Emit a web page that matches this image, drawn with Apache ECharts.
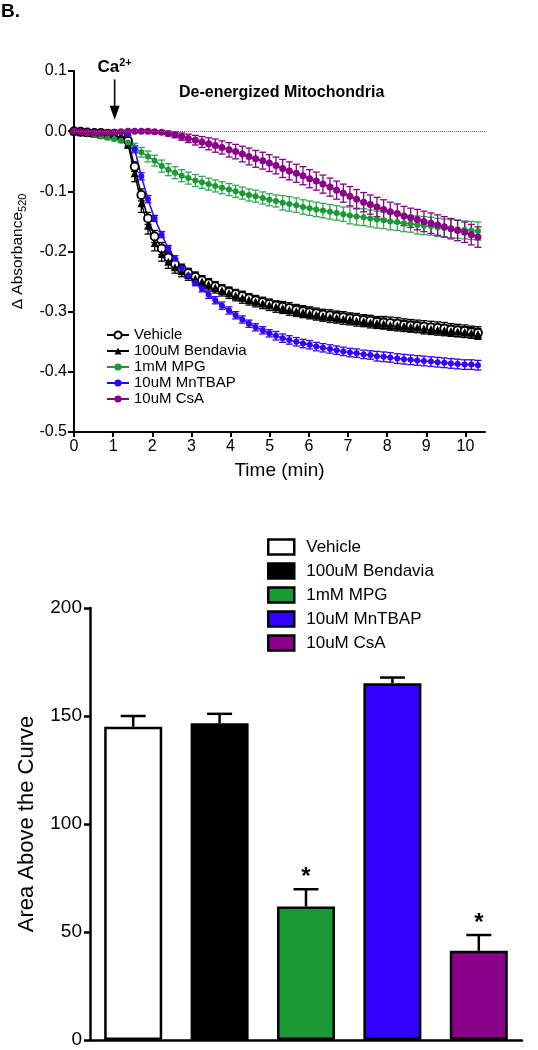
<!DOCTYPE html>
<html><head><meta charset="utf-8">
<script src="https://cdn.jsdelivr.net/npm/echarts@6/dist/echarts.min.js"></script>
<style>html,body{margin:0;padding:0;background:#fff}#c{width:538px;height:1050px}</style>
</head><body><div id="c"></div>
<script>
const FONT = '"Liberation Sans", Arial, sans-serif';
const seriesNames = ['Vehicle', '100uM Bendavia', '1mM MPG', '10uM MnTBAP', '10uM CsA'];
const timeMin = [
  0, 0.17, 0.34, 0.52, 0.69, 0.86, 1.03, 1.20, 1.38, 1.55,
  1.72, 1.89, 2.06, 2.24, 2.41, 2.58, 2.75, 2.92, 3.10, 3.27,
  3.44, 3.61, 3.78, 3.96, 4.13, 4.30, 4.47, 4.64, 4.82, 4.99,
  5.16, 5.33, 5.50, 5.68, 5.85, 6.02, 6.19, 6.36, 6.54, 6.71,
  6.88, 7.05, 7.22, 7.40, 7.57, 7.74, 7.91, 8.08, 8.26, 8.43,
  8.60, 8.77, 8.94, 9.12, 9.29, 9.46, 9.63, 9.80, 9.98, 10.15, 10.32];
const vehicle = [
  0, -0.001, -0.002, -0.003, -0.003, -0.004, -0.004, -0.005, -0.016, -0.059,
  -0.106, -0.145, -0.175, -0.195, -0.210, -0.221, -0.229, -0.236, -0.242, -0.248,
  -0.253, -0.258, -0.263, -0.267, -0.271, -0.274, -0.278, -0.281, -0.284, -0.287,
  -0.290, -0.292, -0.294, -0.297, -0.299, -0.301, -0.303, -0.305, -0.306, -0.308,
  -0.309, -0.311, -0.312, -0.314, -0.315, -0.317, -0.318, -0.319, -0.320, -0.322,
  -0.323, -0.324, -0.325, -0.326, -0.327, -0.328, -0.330, -0.331, -0.332, -0.334, -0.335];
const vehicleErr = [
  0.001, 0.001, 0.001, 0.001, 0.001, 0.002, 0.002, 0.002, 0.004, 0.008,
  0.010, 0.010, 0.010, 0.010, 0.009, 0.009, 0.008, 0.008, 0.008, 0.008,
  0.008, 0.008, 0.008, 0.008, 0.008, 0.008, 0.008, 0.008, 0.008, 0.008,
  0.008, 0.009, 0.009, 0.009, 0.009, 0.009, 0.009, 0.009, 0.009, 0.009,
  0.009, 0.009, 0.009, 0.009, 0.009, 0.009, 0.010, 0.010, 0.010, 0.010,
  0.010, 0.010, 0.010, 0.010, 0.010, 0.010, 0.010, 0.010, 0.010, 0.010, 0.010];
const bendavia = [
  0, -0.002, -0.003, -0.004, -0.005, -0.005, -0.006, -0.007, -0.022, -0.070,
  -0.120, -0.157, -0.186, -0.204, -0.217, -0.226, -0.233, -0.239, -0.245, -0.250,
  -0.255, -0.260, -0.265, -0.269, -0.273, -0.277, -0.280, -0.283, -0.286, -0.289,
  -0.292, -0.294, -0.297, -0.299, -0.301, -0.303, -0.305, -0.307, -0.309, -0.310,
  -0.312, -0.313, -0.315, -0.316, -0.318, -0.319, -0.320, -0.322, -0.323, -0.324,
  -0.325, -0.326, -0.328, -0.329, -0.330, -0.331, -0.332, -0.333, -0.334, -0.335, -0.337];
const bendaviaErr = [
  0.001, 0.001, 0.001, 0.001, 0.001, 0.001, 0.001, 0.001, 0.006, 0.014,
  0.015, 0.014, 0.013, 0.012, 0.011, 0.010, 0.009, 0.009, 0.009, 0.009,
  0.009, 0.009, 0.009, 0.009, 0.009, 0.009, 0.009, 0.009, 0.009, 0.009,
  0.009, 0.009, 0.009, 0.009, 0.009, 0.009, 0.009, 0.009, 0.009, 0.009,
  0.009, 0.009, 0.009, 0.009, 0.009, 0.009, 0.009, 0.009, 0.009, 0.009,
  0.009, 0.009, 0.009, 0.009, 0.009, 0.009, 0.009, 0.009, 0.009, 0.009, 0.009];
const mpg = [
  0, -0.002, -0.004, -0.006, -0.009, -0.011, -0.013, -0.016, -0.019, -0.027,
  -0.035, -0.042, -0.049, -0.058, -0.064, -0.069, -0.074, -0.078, -0.082, -0.085,
  -0.088, -0.091, -0.094, -0.097, -0.100, -0.103, -0.106, -0.108, -0.111, -0.114,
  -0.116, -0.119, -0.121, -0.123, -0.126, -0.128, -0.130, -0.132, -0.134, -0.136,
  -0.138, -0.140, -0.142, -0.143, -0.145, -0.147, -0.148, -0.150, -0.151, -0.153,
  -0.154, -0.156, -0.157, -0.158, -0.160, -0.161, -0.162, -0.163, -0.164, -0.165, -0.166];
const mpgErr = [
  0.002, 0.002, 0.002, 0.002, 0.003, 0.003, 0.003, 0.003, 0.005, 0.007,
  0.008, 0.009, 0.009, 0.010, 0.010, 0.010, 0.010, 0.010, 0.010, 0.010,
  0.010, 0.010, 0.010, 0.010, 0.010, 0.010, 0.010, 0.010, 0.010, 0.010,
  0.010, 0.012, 0.012, 0.012, 0.012, 0.012, 0.012, 0.012, 0.012, 0.012,
  0.012, 0.014, 0.014, 0.014, 0.014, 0.014, 0.014, 0.014, 0.014, 0.014,
  0.014, 0.015, 0.015, 0.015, 0.015, 0.015, 0.015, 0.015, 0.015, 0.015, 0.015];
const mntbap = [
  0, -0.001, -0.002, -0.002, -0.003, -0.003, -0.003, -0.002, -0.005, -0.030,
  -0.075, -0.113, -0.145, -0.172, -0.195, -0.212, -0.228, -0.240, -0.252, -0.262,
  -0.272, -0.281, -0.290, -0.298, -0.306, -0.313, -0.320, -0.326, -0.331, -0.336,
  -0.340, -0.344, -0.347, -0.350, -0.353, -0.355, -0.358, -0.360, -0.362, -0.364,
  -0.366, -0.368, -0.369, -0.371, -0.372, -0.374, -0.375, -0.376, -0.378, -0.379,
  -0.380, -0.381, -0.382, -0.383, -0.384, -0.385, -0.386, -0.387, -0.388, -0.388, -0.389];
const mntbapErr = [
  0.001, 0.001, 0.001, 0.001, 0.001, 0.001, 0.001, 0.001, 0.003, 0.006,
  0.006, 0.006, 0.005, 0.005, 0.005, 0.005, 0.005, 0.005, 0.005, 0.005,
  0.006, 0.006, 0.006, 0.006, 0.006, 0.006, 0.006, 0.006, 0.006, 0.006,
  0.007, 0.007, 0.007, 0.007, 0.007, 0.007, 0.007, 0.007, 0.007, 0.007,
  0.007, 0.007, 0.007, 0.007, 0.007, 0.008, 0.008, 0.008, 0.008, 0.008,
  0.008, 0.008, 0.008, 0.008, 0.008, 0.008, 0.008, 0.008, 0.008, 0.008, 0.008];
const csa = [
  0, -0.001, -0.002, -0.003, -0.003, -0.003, -0.002, -0.001, 0.000, 0.000,
  0.000, 0.000, -0.001, -0.002, -0.004, -0.006, -0.009, -0.012, -0.015, -0.018,
  -0.021, -0.024, -0.027, -0.031, -0.034, -0.038, -0.042, -0.046, -0.049, -0.053,
  -0.057, -0.062, -0.066, -0.070, -0.074, -0.079, -0.083, -0.088, -0.093, -0.098,
  -0.103, -0.108, -0.113, -0.118, -0.122, -0.126, -0.130, -0.134, -0.137, -0.141,
  -0.144, -0.147, -0.150, -0.153, -0.156, -0.159, -0.162, -0.165, -0.168, -0.172, -0.176];
const csaErr = [
  0.002, 0.002, 0.002, 0.002, 0.002, 0.002, 0.002, 0.002, 0.002, 0.002,
  0.002, 0.002, 0.002, 0.003, 0.004, 0.005, 0.006, 0.007, 0.008, 0.009,
  0.010, 0.011, 0.011, 0.012, 0.012, 0.013, 0.014, 0.014, 0.014, 0.014,
  0.014, 0.015, 0.015, 0.015, 0.015, 0.015, 0.015, 0.015, 0.015, 0.015,
  0.015, 0.016, 0.016, 0.016, 0.016, 0.016, 0.016, 0.016, 0.016, 0.016,
  0.016, 0.017, 0.017, 0.017, 0.017, 0.017, 0.017, 0.017, 0.017, 0.017, 0.017];
const xTicks = [0, 1, 2, 3, 4, 5, 6, 7, 8, 9, 10];
const caTime = 1;

const aacCategories = ['Vehicle', '100uM Bendavia', '1mM MPG', '10uM MnTBAP', '10uM CsA'];
const aacMean = [145.0, 146.6, 61.8, 165.2, 41.3];
const aacSem = [5.0, 4.4, 8.0, 2.6, 7.3];
const aacSignificant = [false, false, true, false, true];

const colors = ['#000000', '#000000', '#1a9934', '#3300ff', '#8a0088'];
const errColors = ['#000000', '#000000', '#33a852', '#3300ff', '#8a0088'];
const barFill = ['#ffffff', '#000000', '#1a9934', '#3300ff', '#8a0088'];
const lineValues = [vehicle, bendavia, mpg, mntbap, csa];
const lineErrs = [vehicleErr, bendaviaErr, mpgErr, mntbapErr, csaErr];
const symbols = ['circle', 'triangle', 'circle', 'circle', 'circle'];
const symbolSizes = [8, 8, 6, 6, 7];

function errRender(color, capW, lw) {
  return function (params, api) {
    const x = api.value(0), y = api.value(1), e = api.value(2);
    const hi = api.coord([x, y + e]), lo = api.coord([x, y - e]);
    const w = capW / 2;
    return {type: 'group', children: [
      {type: 'line', shape: {x1: hi[0], y1: hi[1], x2: lo[0], y2: lo[1]}, style: {stroke: color, lineWidth: lw}},
      {type: 'line', shape: {x1: hi[0] - w, y1: hi[1], x2: hi[0] + w, y2: hi[1]}, style: {stroke: color, lineWidth: lw}},
      {type: 'line', shape: {x1: lo[0] - w, y1: lo[1], x2: lo[0] + w, y2: lo[1]}, style: {stroke: color, lineWidth: lw}}
    ]};
  };
}

const series = [];
seriesNames.forEach((n, k) => {
  series.push({
    name: 'err:' + n, type: 'custom', xAxisIndex: 0, yAxisIndex: 0,
    renderItem: errRender(errColors[k], 7, 1.3),
    encode: {x: 0, y: 1},
    data: timeMin.map((t, i) => [t, lineValues[k][i], lineErrs[k][i]]),
    silent: true, z: 2
  });
});
seriesNames.forEach((n, k) => {
  series.push({
    name: n, type: 'line', xAxisIndex: 0, yAxisIndex: 0,
    data: timeMin.map((t, i) => [t, lineValues[k][i]]),
    symbol: symbols[k], symbolSize: symbolSizes[k], showSymbol: true,
    lineStyle: {color: colors[k], width: 1.5},
    itemStyle: k === 0 ? {color: '#ffffff', borderColor: '#000000', borderWidth: 1.8}
                       : {color: colors[k], borderColor: colors[k], borderWidth: 0},
    z: 3,
    markLine: k === 0 ? {silent: true, symbol: 'none', label: {show: false},
      lineStyle: {type: 'dotted', color: '#666', width: 1}, data: [{yAxis: 0}]} : undefined
  });
});
aacCategories.forEach((n, k) => {
  series.push({
    name: 'bar:' + n, type: 'bar', xAxisIndex: 1, yAxisIndex: 1,
    data: aacCategories.map((c, i) => i === k ? aacMean[i] : '-'),
    barWidth: 58, barGap: '-100%',
    itemStyle: {color: barFill[k], borderColor: '#000', borderWidth: 2.5},
    z: 3
  });
});
series.push({
  name: 'aacErr', type: 'custom', xAxisIndex: 1, yAxisIndex: 1,
  encode: {x: 0, y: 1},
  data: aacCategories.map((c, i) => [i, aacMean[i], aacSem[i], aacSignificant[i] ? 1 : 0]),
  silent: true, z: 2,
  renderItem: function (params, api) {
    const i = api.value(0), m = api.value(1), e = api.value(2), s = api.value(3);
    const base = api.coord([i, m]), top = api.coord([i, m + e]);
    const ch = [
      {type: 'line', shape: {x1: base[0], y1: base[1], x2: top[0], y2: top[1]}, style: {stroke: '#000', lineWidth: 2.5}},
      {type: 'line', shape: {x1: top[0] - 12.5, y1: top[1], x2: top[0] + 12.5, y2: top[1]}, style: {stroke: '#000', lineWidth: 2.5}}
    ];
    if (s) ch.push({type: 'text', style: {text: '*', x: top[0], y: top[1] - 12, fill: '#000',
      font: 'bold 24px ' + FONT, textAlign: 'center', textVerticalAlign: 'middle'}});
    return {type: 'group', children: ch};
  }
});

const option = {
  animation: false,
  backgroundColor: '#fff',
  textStyle: {fontFamily: FONT, color: '#000'},
  title: [
    {text: 'B.', left: 1, top: 2, padding: 0, textStyle: {fontFamily: FONT, fontWeight: 'bold', fontSize: 19, color: '#000'}},
    {text: 'De-energized Mitochondria', left: 179, top: 85, padding: 0, textStyle: {fontFamily: FONT, fontWeight: 'bold', fontSize: 16, color: '#000'}}
  ],
  grid: [
    {left: 74, top: 71, width: 411, height: 361},
    {left: 90, top: 608, width: 432, height: 432}
  ],
  legend: [
    {data: seriesNames, orient: 'vertical', left: 106, top: 327, padding: 0, itemGap: 0,
      itemWidth: 22, itemHeight: 9, selectedMode: false,
      textStyle: {fontFamily: FONT, fontSize: 15, color: '#000', lineHeight: 16}},
    {data: aacCategories.map(n => 'bar:' + n), orient: 'vertical', left: 267, top: 537, padding: 0, itemGap: 4,
      itemWidth: 26, itemHeight: 15, selectedMode: false, icon: 'rect',
      formatter: n => n.replace('bar:', ''),
      itemStyle: {borderColor: '#000', borderWidth: 2.5},
      textStyle: {fontFamily: FONT, fontSize: 17, color: '#000', lineHeight: 20, padding: [0, 0, 0, 7]}}
  ],
  xAxis: [
    {type: 'value', gridIndex: 0, min: 0, max: 10.5, interval: 1,
      name: 'Time (min)', nameLocation: 'middle', nameGap: 29,
      nameTextStyle: {fontFamily: FONT, fontSize: 19, color: '#000'},
      axisLine: {onZero: false, lineStyle: {color: '#000', width: 2}},
      axisTick: {length: 5, lineStyle: {color: '#000', width: 2}, customValues: xTicks},
      axisLabel: {fontFamily: FONT, fontSize: 16, color: '#000', margin: 7, customValues: xTicks,
        formatter: v => (Math.abs(v - Math.round(v)) < 1e-6 ? String(Math.round(v)) : '')},
      splitLine: {show: false}},
    {type: 'category', gridIndex: 1, data: aacCategories,
      axisLine: {lineStyle: {color: '#000', width: 2.5}},
      axisTick: {show: false}, axisLabel: {show: false}, splitLine: {show: false}}
  ],
  yAxis: [
    {type: 'value', gridIndex: 0, min: -0.5, max: 0.1, interval: 0.1,
      name: '{a|Δ Absorbance}{s|520}', nameLocation: 'middle', nameGap: 40, nameRotate: 90,
      nameTextStyle: {fontFamily: FONT, color: '#000',
        rich: {a: {fontFamily: FONT, fontSize: 15.5, lineHeight: 22, color: '#000'},
               s: {fontFamily: FONT, fontSize: 11, lineHeight: 10, verticalAlign: 'bottom', color: '#000'}}},
      axisLine: {show: true, lineStyle: {color: '#000', width: 2}},
      axisTick: {show: true, length: 6, lineStyle: {color: '#000', width: 2}},
      axisLabel: {fontFamily: FONT, fontSize: 16, color: '#000', margin: 7, formatter: v => v.toFixed(1)},
      splitLine: {show: false}},
    {type: 'value', gridIndex: 1, min: 0, max: 200, interval: 50,
      name: 'Area Above the Curve', nameLocation: 'middle', nameGap: 52, nameRotate: 90,
      nameTextStyle: {fontFamily: FONT, fontSize: 22, color: '#000'},
      axisLine: {show: true, lineStyle: {color: '#000', width: 2.5}},
      axisTick: {show: true, length: 6, lineStyle: {color: '#000', width: 2.5}},
      axisLabel: {fontFamily: FONT, fontSize: 19, color: '#000', margin: 8},
      splitLine: {show: false}}
  ],
  series: series
};

const chart = echarts.init(document.getElementById('c'), null, {renderer: 'canvas'});
chart.setOption(option);
const tip = chart.convertToPixel({xAxisIndex: 0, yAxisIndex: 0}, [caTime, 0.019]);
const tail = chart.convertToPixel({xAxisIndex: 0, yAxisIndex: 0}, [caTime, 0.086]);
const ax = tip[0] + 1.5;
chart.setOption({graphic: [
  {type: 'line', shape: {x1: ax, y1: tail[1], x2: ax, y2: tip[1] - 10}, style: {stroke: '#000', lineWidth: 1.6}},
  {type: 'polygon', shape: {points: [[ax - 5, tip[1] - 14], [ax + 5, tip[1] - 14], [ax, tip[1]]]}, style: {fill: '#000'}},
  {type: 'text', x: ax, y: tail[1] - 12, style: {text: '{a|Ca}{s|2+}', textAlign: 'center', textVerticalAlign: 'middle',
    rich: {a: {fontFamily: FONT, fontWeight: 'bold', fontSize: 17, lineHeight: 20, fill: '#000'},
           s: {fontFamily: FONT, fontWeight: 'bold', fontSize: 11, lineHeight: 10, verticalAlign: 'top', fill: '#000'}}}}
]});
</script>
</body></html>
